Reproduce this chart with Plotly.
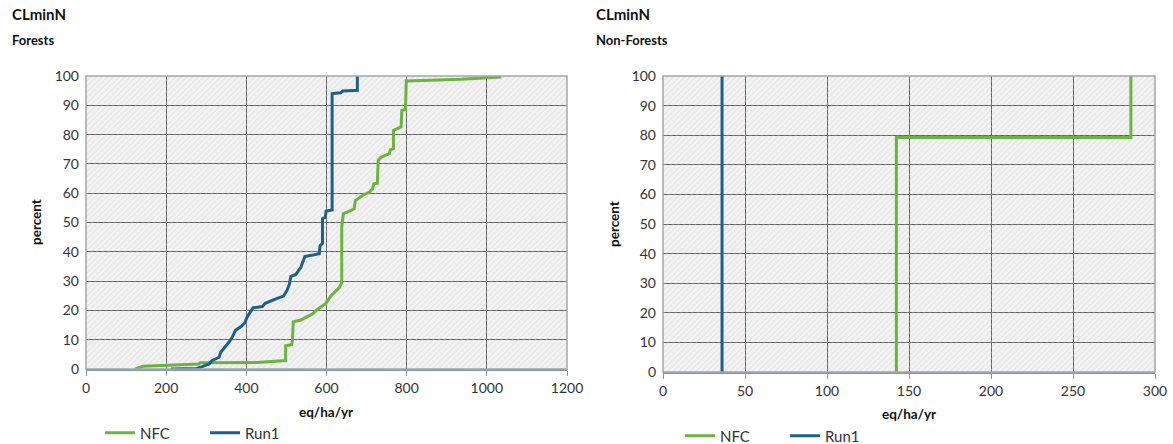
import plotly.graph_objects as go

# ---------------- data ----------------
forest_nfc_x = [123, 140, 142, 282, 284, 427, 498, 498, 513, 515, 517, 536, 552, 565, 577, 598, 611,
                632, 638, 638, 642, 652, 669, 672, 690, 707, 715, 718, 727, 729, 736, 757, 759, 767,
                767, 786, 788, 797, 799, 936, 1036]
forest_nfc_y = [0, 0.6, 0.9, 1.7, 2.1, 2.2, 2.9, 7.9, 8.3, 9.8, 16.1, 16.7, 18.0, 18.8, 20.3, 22.3, 24.9,
                27.8, 29.5, 48.4, 53.0, 53.5, 54.7, 57.5, 59.2, 60.4, 61.5, 63.2, 63.4, 71.2, 72.3, 73.5, 74.8, 75.2,
                81.4, 82.6, 88.3, 88.5, 98.3, 98.9, 99.7]

forest_run1_x = [212, 277, 290, 307, 315, 332, 336, 348, 357, 365, 373, 386, 396, 402, 411, 417, 440,
                 447, 477, 493, 502, 507, 511, 523, 532, 536, 546, 582, 584, 590, 590, 597, 599, 614,
                 614, 636, 641, 677, 677]
forest_run1_y = [0, 0.2, 0.8, 1.7, 2.9, 4.0, 5.7, 7.5, 9.2, 10.9, 13.2, 14.4, 15.7, 17.8, 19.5, 20.9, 21.3,
                 22.4, 24.1, 24.9, 27.0, 28.7, 31.6, 32.2, 33.9, 34.7, 38.4, 39.3, 42.1, 42.9, 51.3, 51.8, 53.9, 54.3,
                 94.0, 94.3, 94.9, 95.1, 100]

nonforest_nfc_x = [142.3, 142.3, 285.3, 285.3]
nonforest_nfc_y = [0, 79.2, 79.2, 100]

nonforest_run1_x = [36, 36]
nonforest_run1_y = [0, 100]

left_xrange = [0, 1200]
right_xrange = [0, 300]
y_range = [0, 100]
left_xticks = [0, 200, 400, 600, 800, 1000, 1200]
right_xticks = [0, 50, 100, 150, 200, 250, 300]
y_ticks = [0, 10, 20, 30, 40, 50, 60, 70, 80, 90, 100]

GREEN = "#6cb33f"
BLUE = "#1f5f8c"
FONT = "Lato"

W, H = 1173, 444

fig = go.Figure()


def bg(xr, xa, ya):
    fig.add_trace(go.Scatter(
        x=[xr[0], xr[1], xr[1], xr[0], xr[0]], y=[y_range[0], y_range[0], y_range[1], y_range[1], y_range[0]],
        xaxis=xa, yaxis=ya, mode="lines", line=dict(width=0), fill="toself",
        fillcolor="rgba(0,0,0,0)",
        fillpattern=dict(shape="/", fgcolor="#cdcdcd", bgcolor="rgba(0,0,0,0)", size=4, solidity=0.25),
        hoverinfo="skip", showlegend=False))


bg(left_xrange, "x", "y")
bg(right_xrange, "x2", "y2")

fig.add_trace(go.Scatter(x=forest_nfc_x, y=forest_nfc_y, mode="lines", name="NFC",
                         line=dict(color=GREEN, width=3), xaxis="x", yaxis="y", legend="legend"))
fig.add_trace(go.Scatter(x=forest_run1_x, y=forest_run1_y, mode="lines", name="Run1",
                         line=dict(color=BLUE, width=3), xaxis="x", yaxis="y", legend="legend"))
fig.add_trace(go.Scatter(x=nonforest_nfc_x, y=nonforest_nfc_y, mode="lines", name="NFC",
                         line=dict(color=GREEN, width=3), xaxis="x2", yaxis="y2", legend="legend2"))
fig.add_trace(go.Scatter(x=nonforest_run1_x, y=nonforest_run1_y, mode="lines", name="Run1",
                         line=dict(color=BLUE, width=3), xaxis="x2", yaxis="y2", legend="legend2"))

tickfont = dict(family=FONT, size=14, color="#333333")
grid = dict(showgrid=True, gridcolor="#5f5f5f", gridwidth=1, zeroline=False, automargin=False)

l_x0, l_x1, l_ytop, l_ybot = 86, 567, 76, 369
r_x0, r_x1, r_ytop, r_ybot = 663, 1155, 76, 372

legend_common = dict(orientation="h", xanchor="left", yanchor="middle", itemwidth=30,
                     font=dict(family=FONT, size=15, color="#333333"), entrywidth=60,
                     entrywidthmode="pixels", bgcolor="rgba(0,0,0,0)")

fig.update_layout(
    width=W, height=H, margin=dict(l=0, r=0, t=0, b=0, autoexpand=False),
    paper_bgcolor="white", plot_bgcolor="#f3f3f3",
    xaxis=dict(domain=[l_x0 / W, l_x1 / W], range=left_xrange, tickvals=left_xticks, anchor="y",
               showline=True, linecolor="#7f9bb3", linewidth=2, ticks="outside", ticklen=5,
               tickcolor="#7f9bb3", tickfont=tickfont, **grid),
    yaxis=dict(domain=[1 - l_ybot / H, 1 - l_ytop / H], range=y_range, tickvals=y_ticks, anchor="x",
               showline=False, ticks="", tickfont=tickfont, ticklabelstandoff=6, **grid),
    xaxis2=dict(domain=[r_x0 / W, r_x1 / W], range=right_xrange, tickvals=right_xticks, anchor="y2",
                showline=True, linecolor="#7f9bb3", linewidth=2, ticks="outside", ticklen=5,
                tickcolor="#7f9bb3", tickfont=tickfont, **grid),
    yaxis2=dict(domain=[1 - r_ybot / H, 1 - r_ytop / H], range=y_range, tickvals=y_ticks, anchor="x2",
                showline=False, ticks="", tickfont=tickfont, ticklabelstandoff=6, **grid),
    legend=dict(x=100 / W, y=1 - 433 / H, **legend_common),
    legend2=dict(x=680 / W, y=1 - 436 / H, **legend_common),
    showlegend=True,
)

# plot area borders
for xa, ya in (("x", "y"), ("x2", "y2")):
    fig.add_shape(type="rect", xref=f"{xa} domain", yref=f"{ya} domain", x0=0, x1=1, y0=0, y1=1,
                  line=dict(color="#a6a6a6", width=1.5), layer="above")

ann_title = dict(family=FONT, size=15, color="#111111")
ann_sub = dict(family=FONT, size=13, color="#111111")
annotations = [
    dict(text="<b>CLminN</b>", x=10 / W, y=1 - 14 / H, font=ann_title),
    dict(text="<b>Forests</b>", x=10 / W, y=1 - 40 / H, font=ann_sub),
    dict(text="<b>CLminN</b>", x=594 / W, y=1 - 14 / H, font=ann_title),
    dict(text="<b>Non-Forests</b>", x=594 / W, y=1 - 40 / H, font=ann_sub),
]
for a in annotations:
    a.update(xref="paper", yref="paper", xanchor="left", yanchor="middle", showarrow=False)

axis_title_font = dict(family=FONT, size=13.5, color="#111111")
for txt, x, y, ang in (("<b>percent</b>", 36, 222, -90), ("<b>eq/ha/yr</b>", 326, 412, 0),
                       ("<b>percent</b>", 614, 224, -90), ("<b>eq/ha/yr</b>", 909, 414, 0)):
    annotations.append(dict(text=txt, x=x / W, y=1 - y / H, xref="paper", yref="paper", showarrow=False,
                            xanchor="center", yanchor="middle", textangle=ang, font=axis_title_font))

fig.update_layout(annotations=annotations)

fig.write_html("out.html", config={"displayModeBar": False},
               post_script="document.body.style.margin='0';document.body.style.overflow='hidden';")
